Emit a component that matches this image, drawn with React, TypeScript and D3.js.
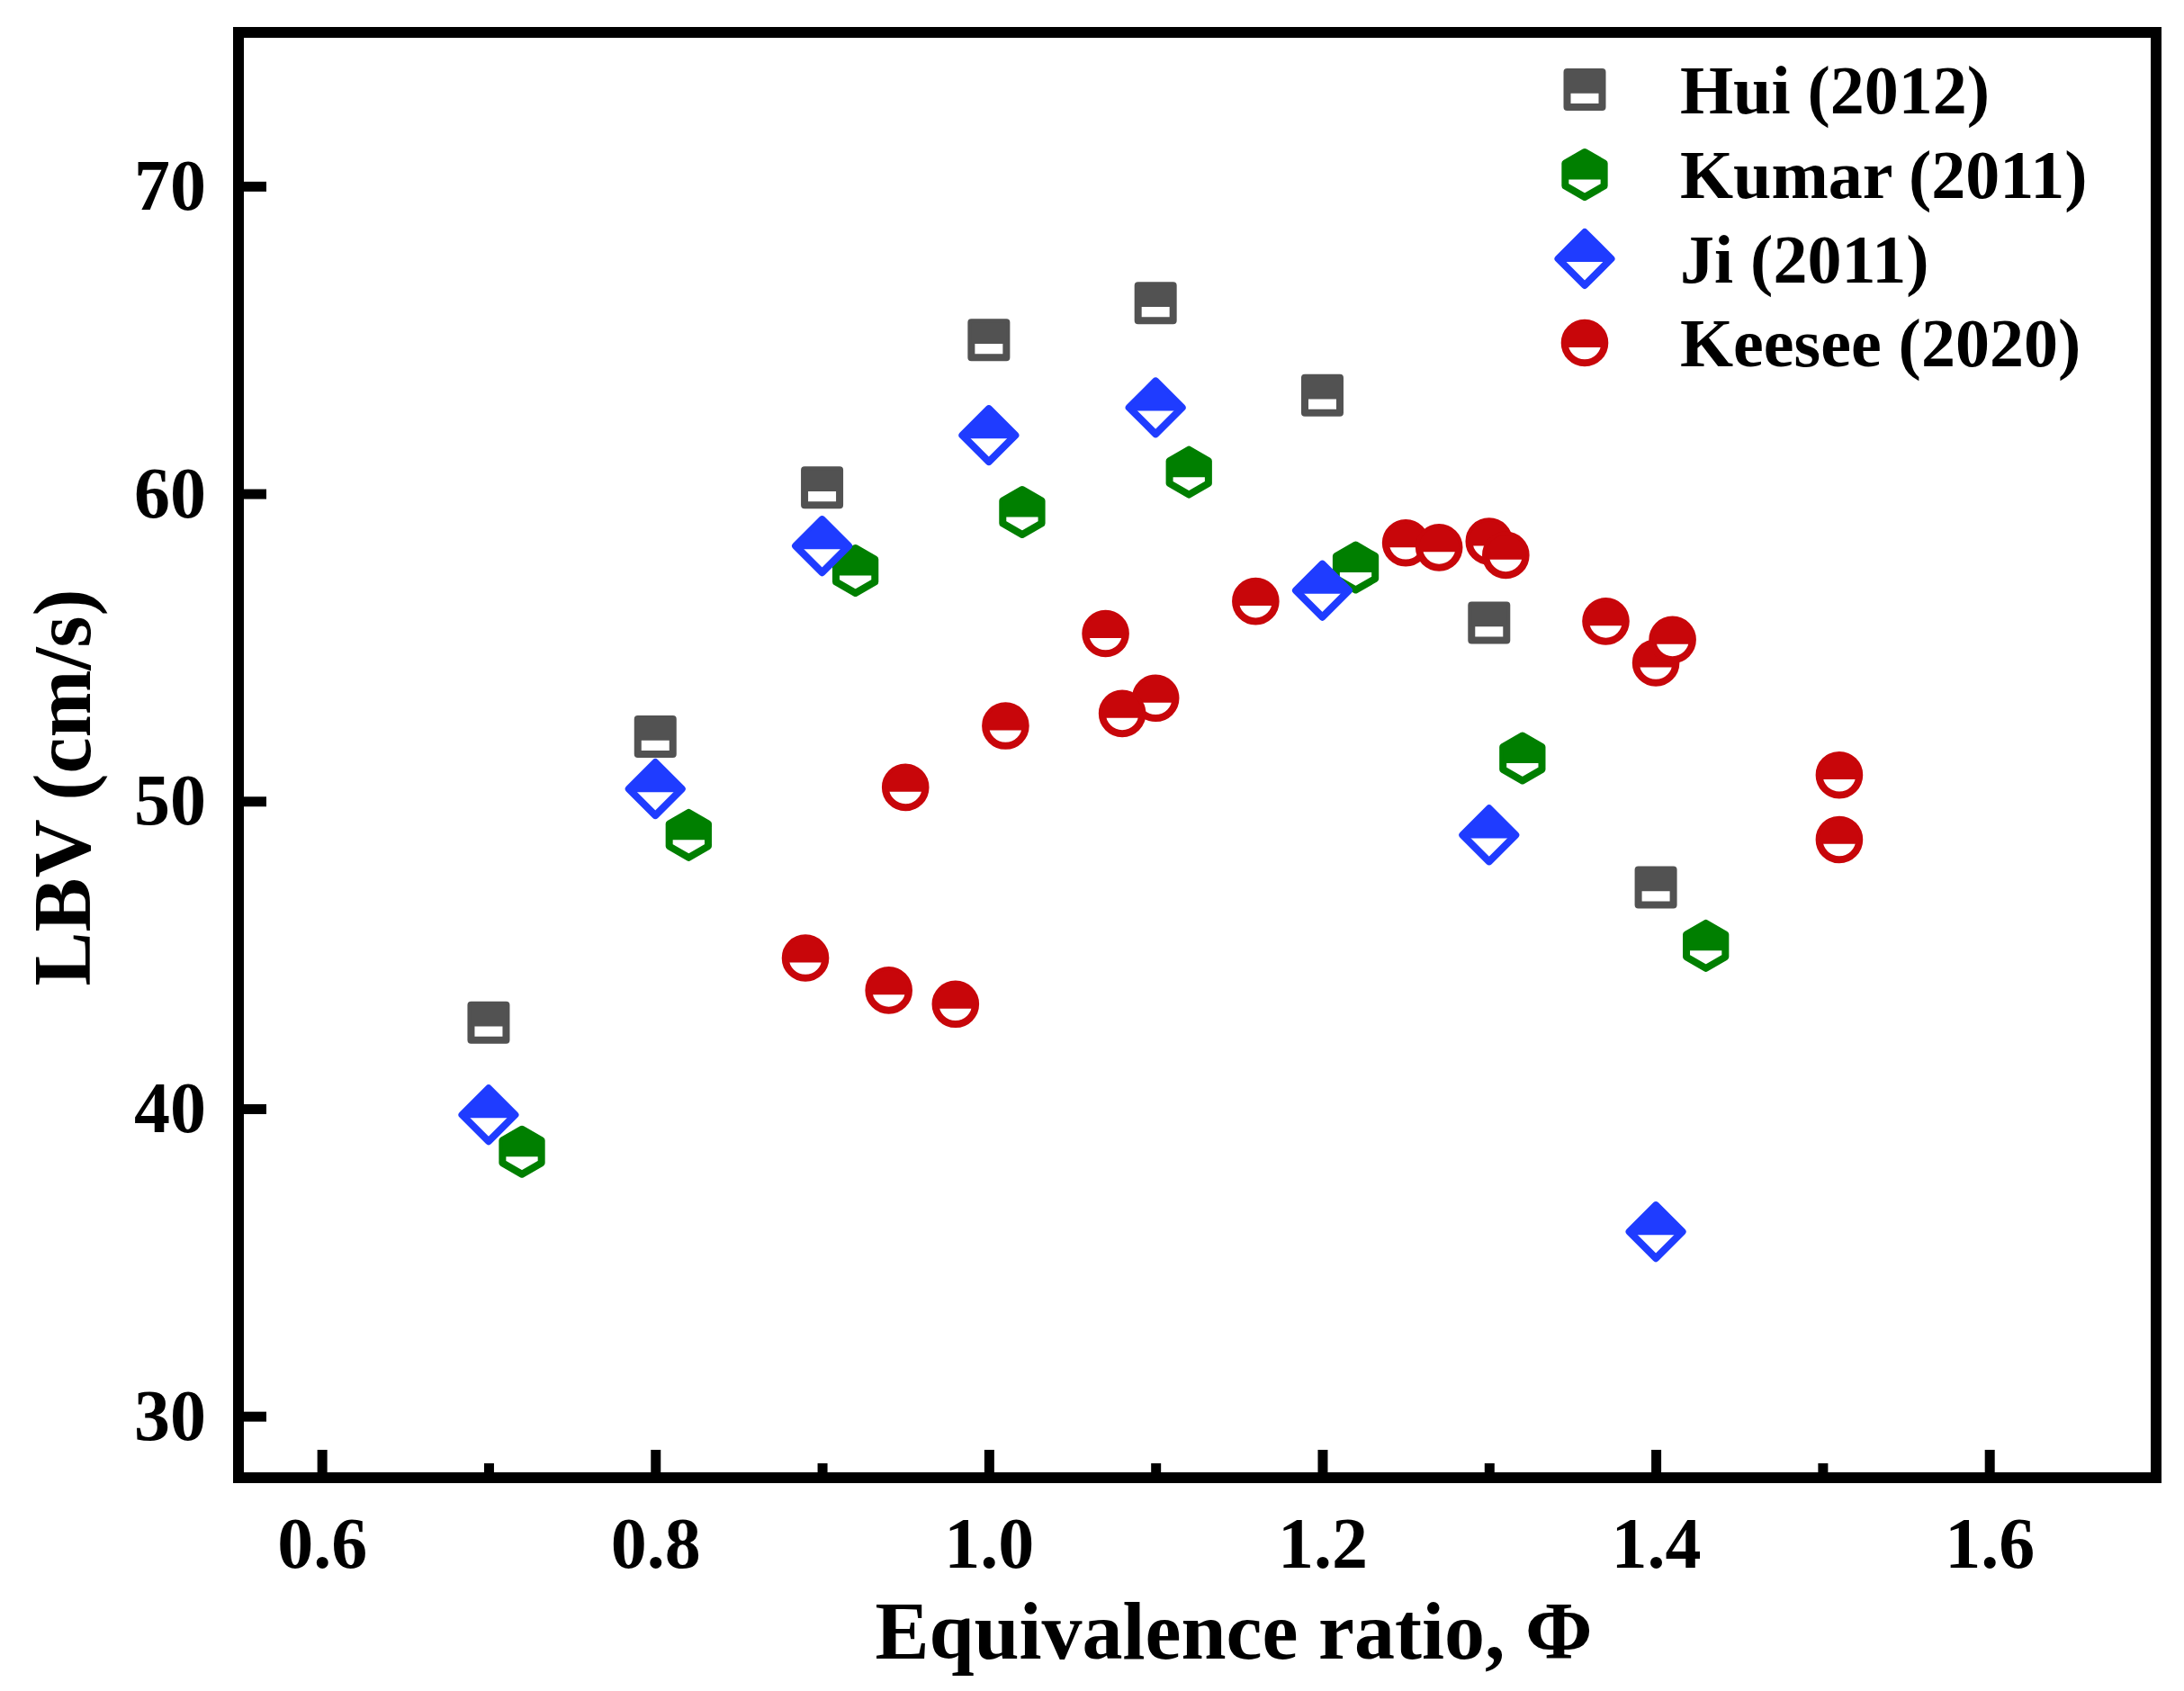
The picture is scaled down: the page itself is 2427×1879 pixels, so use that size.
import React, { useEffect, useRef } from 'react';
import * as d3 from 'd3';

// Laminar burning velocity vs equivalence ratio, four data sources
const huiPhi = [0.7, 0.8, 0.9, 1.0, 1.1, 1.2, 1.3, 1.4];
const huiLBV = [42.8, 52.1, 60.2, 65.0, 66.2, 63.2, 55.8, 47.2];

const kumarPhi = [0.72, 0.82, 0.92, 1.02, 1.12, 1.22, 1.32, 1.43];
const kumarLBV = [38.6, 48.9, 57.5, 59.4, 60.7, 57.6, 51.4, 45.3];

const jiPhi = [0.7, 0.8, 0.9, 1.0, 1.1, 1.2, 1.3, 1.4];
const jiLBV = [39.8, 50.4, 58.3, 61.9, 62.8, 56.85, 48.9, 36.0];

const keeseePhi = [0.89, 0.94, 0.95, 0.98, 1.01, 1.07, 1.1, 1.08, 1.16, 1.25, 1.27, 1.3, 1.31, 1.37, 1.4, 1.41, 1.51, 1.51];
const keeseeLBV = [44.9, 43.85, 50.45, 43.4, 52.45, 55.45, 53.35, 52.85, 56.5, 58.4, 58.25, 58.45, 58.0, 55.85, 54.5, 55.25, 50.85, 48.75];

const seriesNames = ['Hui (2012)', 'Kumar (2011)', 'Ji (2011)', 'Keesee (2020)'];
const seriesColors = ['#525252', '#007f00', '#1f3cff', '#c8060a'];

const xMajorTicks = [0.6, 0.8, 1.0, 1.2, 1.4, 1.6];
const xMinorTicks = [0.7, 0.9, 1.1, 1.3, 1.5];
const yTicks = [30, 40, 50, 60, 70];

const W = 2427;
const H = 1879;
const FONT = '"Liberation Serif", "Times New Roman", serif';

const squarePath = (h: number) => `M${-h},${-h}H${h}V${h}H${-h}Z`;
const diamondPath = (r: number) => `M0,${-r}L${r},0L0,${r}L${-r},0Z`;
const hexPath = (R: number) => {
  const c = R * Math.cos(Math.PI / 6);
  return `M0,${-R}L${c},${-R / 2}L${c},${R / 2}L0,${R}L${-c},${R / 2}L${-c},${-R / 2}Z`;
};
const circlePath = (r: number) => `M${-r},0A${r},${r} 0 1 0 ${r},0A${r},${r} 0 1 0 ${-r},0Z`;

const shapes = [
  { d: squarePath(19.5), clip: 'fillTop' },
  { d: hexPath(25), clip: 'fillTop' },
  { d: diamondPath(29.5), clip: 'fillTopD' },
  { d: circlePath(22.3), clip: 'fillTop' },
];

const App: React.FC = () => {
  const svgRef = useRef<SVGSVGElement | null>(null);

  useEffect(() => {
    const svg = d3.select(svgRef.current);
    svg.selectAll('*').remove();

    const x = d3.scaleLinear().domain([0.55, 1.7]).range([265, 2396]);
    const y = d3.scaleLinear().domain([28, 75]).range([1642, 36]);

    const defs = svg.append('defs');
    defs.append('clipPath').attr('id', 'fillTop').attr('clipPathUnits', 'objectBoundingBox')
      .append('rect').attr('x', -0.1).attr('y', -0.1).attr('width', 1.2).attr('height', 0.71);
    defs.append('clipPath').attr('id', 'fillTopD').attr('clipPathUnits', 'objectBoundingBox')
      .append('rect').attr('x', -0.1).attr('y', -0.1).attr('width', 1.2).attr('height', 0.66);

    svg.append('rect').attr('width', W).attr('height', H).attr('fill', '#fff');

    // x axis ticks (inward)
    const gx = svg.append('g').attr('transform', `translate(0,${y(28)})`);
    gx.call(d3.axisBottom(x).tickValues(xMajorTicks).tickSize(-31).tickPadding(43).tickFormat(d3.format('.1f')) as any);
    const gxm = svg.append('g').attr('transform', `translate(0,${y(28)})`);
    gxm.call(d3.axisBottom(x).tickValues(xMinorTicks).tickSize(-16).tickFormat(() => '') as any);

    const gy = svg.append('g').attr('transform', `translate(${x(0.55)},0)`);
    gy.call(d3.axisLeft(y).tickValues(yTicks).tickSize(-31).tickPadding(36).tickFormat(d3.format('d')) as any);

    [gx, gxm, gy].forEach((g) => {
      g.select('.domain').remove();
      g.selectAll('.tick line').attr('stroke', '#000').attr('stroke-width', 11);
      g.selectAll('.tick text')
        .attr('fill', '#000')
        .style('font-family', FONT)
        .style('font-weight', 'bold')
        .style('font-size', '80px');
    });

    // frame
    svg.append('rect')
      .attr('x', x(0.55)).attr('y', y(75))
      .attr('width', x(1.7) - x(0.55)).attr('height', y(28) - y(75))
      .attr('fill', 'none').attr('stroke', '#000').attr('stroke-width', 12);

    const series = [
      { xs: huiPhi, ys: huiLBV },
      { xs: kumarPhi, ys: kumarLBV },
      { xs: jiPhi, ys: jiLBV },
      { xs: keeseePhi, ys: keeseeLBV },
    ];

    const drawMarker = (g: any, si: number, cx: number, cy: number) => {
      const s = shapes[si];
      const c = seriesColors[si];
      const m = g.append('g').attr('transform', `translate(${cx},${cy})`);
      m.append('path').attr('d', s.d).attr('fill', '#fff').attr('stroke', c)
        .attr('stroke-width', 8).attr('stroke-linejoin', 'round');
      m.append('path').attr('d', s.d).attr('fill', c).attr('clip-path', `url(#${s.clip})`);
    };

    const plot = svg.append('g');
    series.forEach((s, si) => {
      s.xs.forEach((v, i) => drawMarker(plot, si, x(v), y(s.ys[i])));
    });

    // legend
    const legY = [99.5, 194, 287.5, 381];
    const leg = svg.append('g');
    seriesNames.forEach((name, i) => {
      drawMarker(leg, i, 1761, legY[i]);
      leg.append('text')
        .attr('x', 1867).attr('y', legY[i] + 26)
        .style('font-family', FONT).style('font-weight', 'bold').style('font-size', '76px')
        .attr('fill', '#000')
        .text(name);
    });

    // axis titles
    svg.append('text')
      .attr('x', 1371).attr('y', 1843)
      .attr('text-anchor', 'middle')
      .style('font-family', FONT).style('font-weight', 'bold').style('font-size', '90px')
      .text('Equivalence ratio, Φ');

    svg.append('text')
      .attr('transform', `translate(100,875) rotate(-90)`)
      .attr('text-anchor', 'middle')
      .style('font-family', FONT).style('font-weight', 'bold').style('font-size', '90px')
      .text('LBV (cm/s)');
  }, []);

  return (
    <svg
      ref={svgRef}
      width={W}
      height={H}
      style={{ position: 'absolute', left: 0, top: 0, display: 'block' }}
    />
  );
};

export default App;
